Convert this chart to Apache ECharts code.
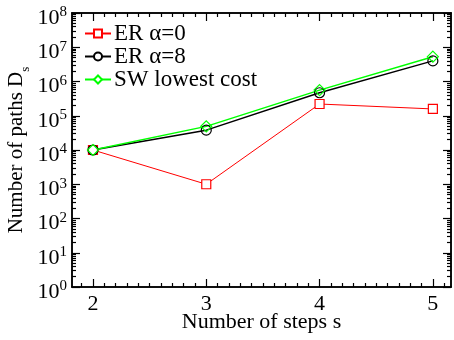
<!DOCTYPE html>
<html>
<head>
<meta charset="utf-8">
<script src="https://cdn.jsdelivr.net/npm/echarts@6/dist/echarts.min.js"></script>
<style>
  html, body { margin: 0; padding: 0; background: #fff; }
  #chart { width: 454px; height: 340px; }
</style>
</head>
<body>
<div id="chart"></div>
<script>
(function(){
  'use strict';

  var steps = [2, 3, 4, 5];
  var erAlpha0 = [1e4, 1e3, 2.2e5, 1.58e5];
  var erAlpha8 = [1e4, 3.8e4, 4.7e5, 4.0e6];
  var swLowest = [1e4, 4.9e4, 5.6e5, 5.3e6];
  var xTicks = [2, 3, 4, 5];
  var yDecades = [1, 1e1, 1e2, 1e3, 1e4, 1e5, 1e6, 1e7, 1e8];

  var FONT = '"Liberation Serif", "DejaVu Serif", serif';
  var GREEN = '#00ff00';

  function pairs(ys) {
    return steps.map(function(s, i) { return [s, ys[i]]; });
  }

  // minor tick positions (0.1 on x, 2..9 per decade on y)
  var xMinor = [];
  for (var i = 18; i <= 52; i++) {
    if (i % 10 !== 0) xMinor.push(i / 10);
  }
  var yMinor = [];
  for (var d = 0; d < 8; d++) {
    for (var m = 2; m <= 9; m++) yMinor.push(m * Math.pow(10, d));
  }

  var XMIN = 1.815, XMAX = 5.16;

  function xAx(pos, ticks, len, withLabels) {
    return {
      type: 'value', min: XMIN, max: XMAX, position: pos,
      axisLine: { show: true, onZero: false, lineStyle: { color: '#000', width: 1.5 } },
      axisTick: { show: true, inside: true, length: len, customValues: ticks, lineStyle: { color: '#000', width: 1.2 } },
      axisLabel: withLabels ? {
        show: true, customValues: ticks, margin: 6,
        fontFamily: FONT, fontSize: 22, color: '#000'
      } : { show: false },
      splitLine: { show: false }
    };
  }

  function yAx(pos, ticks, len, withLabels) {
    return {
      type: 'log', logBase: 10, min: 1, max: 1e8, position: pos,
      axisLine: { show: true, onZero: false, lineStyle: { color: '#000', width: 1.5 } },
      axisTick: { show: true, inside: true, length: len, customValues: ticks, lineStyle: { color: '#000', width: 1.2 } },
      axisLabel: withLabels ? {
        show: true, customValues: ticks, margin: 5, padding: [8, 0, 0, 0],
        formatter: function(v) {
          return '{b|10}{p|' + Math.round(Math.log10(v)) + '}';
        },
        rich: {
          b: { fontFamily: FONT, fontSize: 22, color: '#000', lineHeight: 24, verticalAlign: 'bottom' },
          p: { fontFamily: FONT, fontSize: 15, color: '#000', lineHeight: 8, verticalAlign: 'top' }
        }
      } : { show: false },
      splitLine: { show: false }
    };
  }

  var xMain = xAx('bottom', xTicks, 8, true);
  xMain.name = 'Number of steps s';
  xMain.nameLocation = 'middle';
  xMain.nameGap = 24;
  xMain.nameMoveOverlap = false;
  xMain.nameTextStyle = { fontFamily: FONT, fontSize: 22, color: '#000' };

  var yMain = yAx('left', yDecades, 8, true);
  yMain.name = '{t|Number of paths D}{s|s}';
  yMain.nameLocation = 'middle';
  yMain.nameGap = 40;
  yMain.nameMoveOverlap = false;
  yMain.nameTextStyle = {
    rich: {
      t: { fontFamily: FONT, fontSize: 21, color: '#000', lineHeight: 26, verticalAlign: 'top' },
      s: { fontFamily: FONT, fontSize: 13, color: '#000', lineHeight: 26, verticalAlign: 'bottom' }
    }
  };

  // the grid flips a repeated position to the other side, so the
  // 3rd and 4th axes ask for the opposite side on purpose
  var option = {
    animation: false,
    backgroundColor: '#fff',
    grid: { left: 72, right: 3, top: 13, bottom: 53, containLabel: false, outerBoundsMode: 'none' },
    legend: {
      left: 84, top: 22, orient: 'vertical', padding: 0,
      itemWidth: 26, itemHeight: 10, itemGap: 0,
      textStyle: { fontFamily: FONT, fontSize: 23, color: '#000', lineHeight: 19, padding: [0, 0, 0, -2] },
      data: [
        { name: 'ER α=0', itemStyle: { color: '#fff' } },
        { name: 'ER α=8', itemStyle: { color: '#fff' } },
        { name: 'SW lowest cost', itemStyle: { color: '#fff' } }
      ]
    },
    xAxis: [
      xMain,
      xAx('top', xTicks, 8, false),
      xAx('top', xMinor, 4, false),
      xAx('bottom', xMinor, 4, false)
    ],
    yAxis: [
      yMain,
      yAx('right', yDecades, 8, false),
      yAx('right', yMinor, 4, false),
      yAx('left', yMinor, 4, false)
    ],
    series: [
      {
        name: 'ER α=0', type: 'line', data: pairs(erAlpha0),
        symbol: 'rect', symbolSize: 9,
        lineStyle: { color: '#ff0000', width: 1 },
        itemStyle: { color: '#fff', borderColor: '#ff0000', borderWidth: 1.2 }
      },
      {
        name: 'ER α=8', type: 'line', data: pairs(erAlpha8),
        symbol: 'circle', symbolSize: 10,
        lineStyle: { color: '#000', width: 1.5 },
        itemStyle: { color: 'rgba(255,255,255,0)', borderColor: '#000', borderWidth: 1.2 }
      },
      {
        name: 'SW lowest cost', type: 'line', data: pairs(swLowest),
        symbol: 'diamond', symbolSize: 11,
        lineStyle: { color: GREEN, width: 1.5 },
        itemStyle: { color: 'rgba(255,255,255,0)', borderColor: GREEN, borderWidth: 1.2 }
      }
    ]
  };

  var chart = echarts.init(document.getElementById('chart'), null, { renderer: 'canvas' });
  chart.setOption(option);
})();
</script>
</body>
</html>
